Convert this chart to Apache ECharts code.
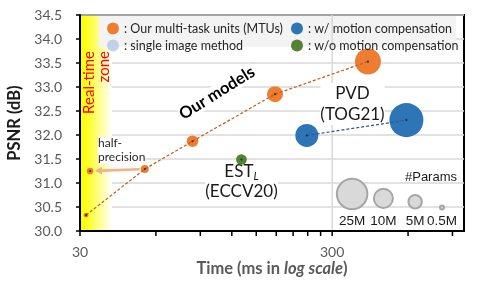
<!DOCTYPE html>
<html><head><meta charset="utf-8">
<script src="https://cdn.jsdelivr.net/npm/echarts@6/dist/echarts.min.js"></script>
<style>html,body{margin:0;padding:0;background:#fff}#c{width:499px;height:283px}</style>
</head><body><div id="c"></div>
<script>
// ---------------- data ----------------
const mtuTime   = [31.7, 54.2, 83.8, 178, 416];      // ms
const mtuPsnr   = [30.33, 31.29, 31.87, 32.85, 33.53]; // dB
const mtuParams = [0.27, 1.1, 2.7, 5.5, 15.6];       // M params
const halfTime   = [32.9];
const halfPsnr   = [31.25];
const halfParams = [0.7];
const mcTime   = [238, 591];
const mcPsnr   = [31.99, 32.31];
const mcParams = [12, 27.5];
const noMcTime   = [131];
const noMcPsnr   = [31.49];
const noMcParams = [2.2];
const sizeRefTime   = [360, 479, 640, 818];
const sizeRefPsnr   = [30.77, 30.68, 30.61, 30.49];
const sizeRefParams = [25, 10, 5, 0.5];
const sizeRefLabels = ['25M', '10M', '5M', '0.5M'];
const legendNames = ['Our multi-task units (MTUs)', 'single image method', 'w/ motion compensation', 'w/o motion compensation'];
const yMin = 30, yMax = 34.5, yStep = 0.5;
const xMin = 30, xMax = 1000;
const xTickValues  = [30, 60, 90, 120, 150, 180, 210, 240, 270, 300, 600, 900];
const xLabelValues = [30, 300];
const xGridValues  = [300];

// ---------------- styling ----------------
const F = 'Lato';
const FA = '"Liberation Sans", Arial';
const diam = p => 6.2 * Math.sqrt(p) + 1.5;
const zip = (xs, ys, ps) => xs.map((x, i) => ps ? [x, ys[i], ps[i]] : [x, ys[i]]);

const chart = echarts.init(document.getElementById('c'), null, {renderer: 'canvas'});

const allPoints = zip(mtuTime, mtuPsnr, mtuParams)
  .concat(zip(halfTime, halfPsnr, halfParams))
  .concat(zip(mcTime, mcPsnr, mcParams))
  .concat(zip(noMcTime, noMcPsnr, noMcParams));

const option = {
  animation: false,
  grid: {left: 80, right: 35, top: 15, bottom: 52, show: true, borderColor: '#000', borderWidth: 2,
         backgroundColor: 'transparent', containLabel: false, outerBoundsMode: 'none'},
  xAxis: {
    type: 'log', logBase: 10, min: xMin, max: xMax,
    axisLine: {lineStyle: {color: '#000', width: 2}},
    axisTick: {show: false}, axisLabel: {show: false}, splitLine: {show: false}, minorTick: {show: false},
    name: '{b|Time (ms in }{i|log scale}{b|)}', nameLocation: 'middle', nameGap: 29,
    nameTextStyle: {rich: {
      b: {fontFamily: F, fontWeight: 'bold', fontSize: 16.5, color: '#595959'},
      i: {fontFamily: F, fontWeight: 'bold', fontStyle: 'italic', fontSize: 16.5, color: '#595959'}
    }}
  },
  yAxis: {
    type: 'value', min: yMin, max: yMax, interval: yStep,
    axisLine: {show: true, lineStyle: {color: '#000', width: 2}},
    axisTick: {show: true, length: 4, lineStyle: {color: '#000', width: 1.5}},
    axisLabel: {formatter: v => v.toFixed(1), fontFamily: F, fontSize: 14, color: '#595959', margin: 18},
    splitLine: {lineStyle: {color: '#d9d9d9', width: 1.5}},
    name: 'PSNR (dB)', nameLocation: 'middle', nameGap: 57,
    nameTextStyle: {fontFamily: F, fontWeight: 'bold', fontSize: 16.5, color: '#1a1a1a'}
  },
  legend: [
    {data: [legendNames[0], legendNames[1]], orient: 'vertical', left: 102, top: 17, itemGap: 4,
     itemWidth: 12, itemHeight: 12, icon: 'circle', formatter: ': {name}', selectedMode: false,
     textStyle: {fontFamily: F, fontSize: 12.5, color: '#262626'}},
    {data: [legendNames[2], legendNames[3]], orient: 'vertical', left: 286, top: 17, itemGap: 4,
     itemWidth: 12, itemHeight: 12, icon: 'circle', formatter: ': {name}', selectedMode: false,
     textStyle: {fontFamily: F, fontSize: 12.5, color: '#262626'}}
  ],
  graphic: [
    {type: 'rect', z: 1, silent: true, shape: {x: 81, y: 16, width: 31, height: 214},
     style: {fill: {type: 'linear', x: 0, y: 0, x2: 1, y2: 0, colorStops: [
       {offset: 0, color: '#ffff00'}, {offset: 0.25, color: '#ffff30'}, {offset: 1, color: '#ffffff'}]}}},
    {type: 'text', z: 2, silent: true, x: 81, y: 51, rotation: Math.PI / 2,
     style: {text: 'Real-time\nzone', align: 'right', verticalAlign: 'top', fill: '#ff0000',
             font: '15px ' + F, lineHeight: 15.5}},
    {type: 'rect', z: 1, silent: true, shape: {x: 99, y: 16, width: 357, height: 31},
     style: {fill: '#f3f3f3'}},
    {type: 'text', z: 2, silent: true, x: 217, y: 93, rotation: 32 * Math.PI / 180,
     style: {text: 'Our models', align: 'center', verticalAlign: 'middle', fill: '#000',
             font: 'bold 16.5px ' + F, backgroundColor: '#fff'}},
    {type: 'text', z: 2, silent: true, x: 352.5, y: 104,
     style: {text: 'PVD\n(TOG21)', align: 'center', verticalAlign: 'middle', fill: '#1a1a1a',
             font: '17px ' + F, lineHeight: 20.7, backgroundColor: '#fff'}},
    {type: 'text', z: 2, silent: true, x: 241.5, y: 182,
     style: {text: '{a|EST}{s|L}\n{a|(ECCV20)}', align: 'center', verticalAlign: 'middle', fill: '#1a1a1a',
             backgroundColor: '#fff',
             rich: {a: {font: '17px ' + F, lineHeight: 20, fill: '#1a1a1a'},
                    s: {font: 'italic 11px ' + F, lineHeight: 10, verticalAlign: 'bottom', fill: '#1a1a1a'}}}},
    {type: 'text', z: 2, silent: true, x: 98, y: 150,
     style: {text: 'half-\nprecision', align: 'left', verticalAlign: 'middle', fill: '#262626',
             font: '12px ' + F, lineHeight: 13.4, backgroundColor: '#fff'}},
    {type: 'text', z: 2, silent: true, x: 457, y: 177,
     style: {text: '#Params', align: 'right', verticalAlign: 'middle', fill: '#1a1a1a', font: '13px ' + FA}}
  ],
  series: [
    { // x-axis ticks, labels and the vertical grid line (placed through the log scale)
      type: 'custom', name: 'xAxisDecor', z: 1, silent: true,
      data: xTickValues.map(v => [v, yMin]),
      renderItem: (params, api) => {
        const v = api.value(0);
        const p = api.coord([v, yMin]);
        const cs = params.coordSys;
        const ch = [{type: 'line', shape: {x1: p[0], y1: cs.y + cs.height, x2: p[0], y2: cs.y + cs.height + 5},
                     style: {stroke: '#000', lineWidth: 1.5}}];
        if (xGridValues.indexOf(v) >= 0) {
          ch.push({type: 'line', shape: {x1: p[0], y1: cs.y, x2: p[0], y2: cs.y + cs.height - 1},
                   style: {stroke: '#d9d9d9', lineWidth: 1.5}});
        }
        if (xLabelValues.indexOf(v) >= 0) {
          ch.push({type: 'text', x: p[0], y: cs.y + cs.height + 21,
                   style: {text: String(v), align: 'center', verticalAlign: 'middle', fill: '#595959', font: '14px ' + F}});
        }
        return {type: 'group', children: ch};
      }
    },
    { // bubble-size reference
      type: 'custom', name: 'sizeRef', z: 2, silent: true,
      data: zip(sizeRefTime, sizeRefPsnr, sizeRefParams),
      renderItem: (params, api) => {
        const p = api.coord([api.value(0), api.value(1)]);
        const r = diam(api.value(2)) / 2;
        const cs = params.coordSys;
        return {type: 'group', children: [
          {type: 'circle', shape: {cx: p[0], cy: p[1], r: Math.max(r - 1, 1.5)},
           style: {fill: '#d9d9d9', stroke: '#a6a6a6', lineWidth: 2}},
          {type: 'text', x: p[0], y: cs.y + cs.height - 9.5,
           style: {text: sizeRefLabels[params.dataIndex], align: 'center', verticalAlign: 'middle',
                   fill: '#1a1a1a', font: '13.5px ' + FA}}
        ]};
      }
    },
    { // half-precision arrow
      type: 'custom', name: 'halfArrow', z: 2, silent: true,
      data: [[mtuTime[1], mtuPsnr[1], halfTime[0], halfPsnr[0], mtuParams[1], halfParams[0]]],
      renderItem: (params, api) => {
        const a = api.coord([api.value(0), api.value(1)]);
        const b = api.coord([api.value(2), api.value(3)]);
        const dx = b[0] - a[0], dy = b[1] - a[1];
        const L = Math.sqrt(dx * dx + dy * dy), ux = dx / L, uy = dy / L;
        const ra = diam(api.value(4)) / 2 + 1, rb = diam(api.value(5)) / 2 + 1.5;
        const s = [a[0] + ux * ra, a[1] + uy * ra];
        const e = [b[0] - ux * rb, b[1] - uy * rb];
        const hl = 7, hw = 3.8;
        const base = [e[0] - ux * hl, e[1] - uy * hl];
        return {type: 'group', children: [
          {type: 'line', shape: {x1: s[0], y1: s[1], x2: base[0], y2: base[1]},
           style: {stroke: '#f4b183', lineWidth: 2.6}},
          {type: 'polygon', shape: {points: [e, [base[0] - uy * hw, base[1] + ux * hw], [base[0] + uy * hw, base[1] - ux * hw]]},
           style: {fill: '#f4b183'}}
        ]};
      }
    },
    {type: 'scatter', name: legendNames[0], z: 3, data: zip(mtuTime, mtuPsnr, mtuParams).concat(zip(halfTime, halfPsnr, halfParams)),
     symbolSize: v => diam(v[2]), itemStyle: {color: '#ed7d31', opacity: 1}},
    {type: 'scatter', name: legendNames[1], z: 3, data: [], itemStyle: {color: '#b4c7e7'}},
    {type: 'scatter', name: legendNames[2], z: 3, data: zip(mcTime, mcPsnr, mcParams),
     symbolSize: v => diam(v[2]), itemStyle: {color: '#2e75b6', opacity: 1}},
    {type: 'scatter', name: legendNames[3], z: 3, data: zip(noMcTime, noMcPsnr, noMcParams),
     symbolSize: v => diam(v[2]), itemStyle: {color: '#548235', opacity: 1}},
    {type: 'line', name: 'mtuTrend', z: 4, silent: true, data: zip(mtuTime, mtuPsnr), showSymbol: false,
     lineStyle: {color: '#c55a11', width: 1.2, type: [3, 2]}},
    {type: 'line', name: 'mcTrend', z: 4, silent: true, data: zip(mcTime, mcPsnr), showSymbol: false,
     lineStyle: {color: '#2f5597', width: 1.2, type: [3, 2]}},
    {type: 'scatter', name: 'centers', z: 5, silent: true, data: allPoints.map(p => [p[0], p[1]]),
     symbolSize: 2.2, itemStyle: {color: '#1a1a1a'}}
  ]
};
chart.setOption(option);
</script>
</body></html>
